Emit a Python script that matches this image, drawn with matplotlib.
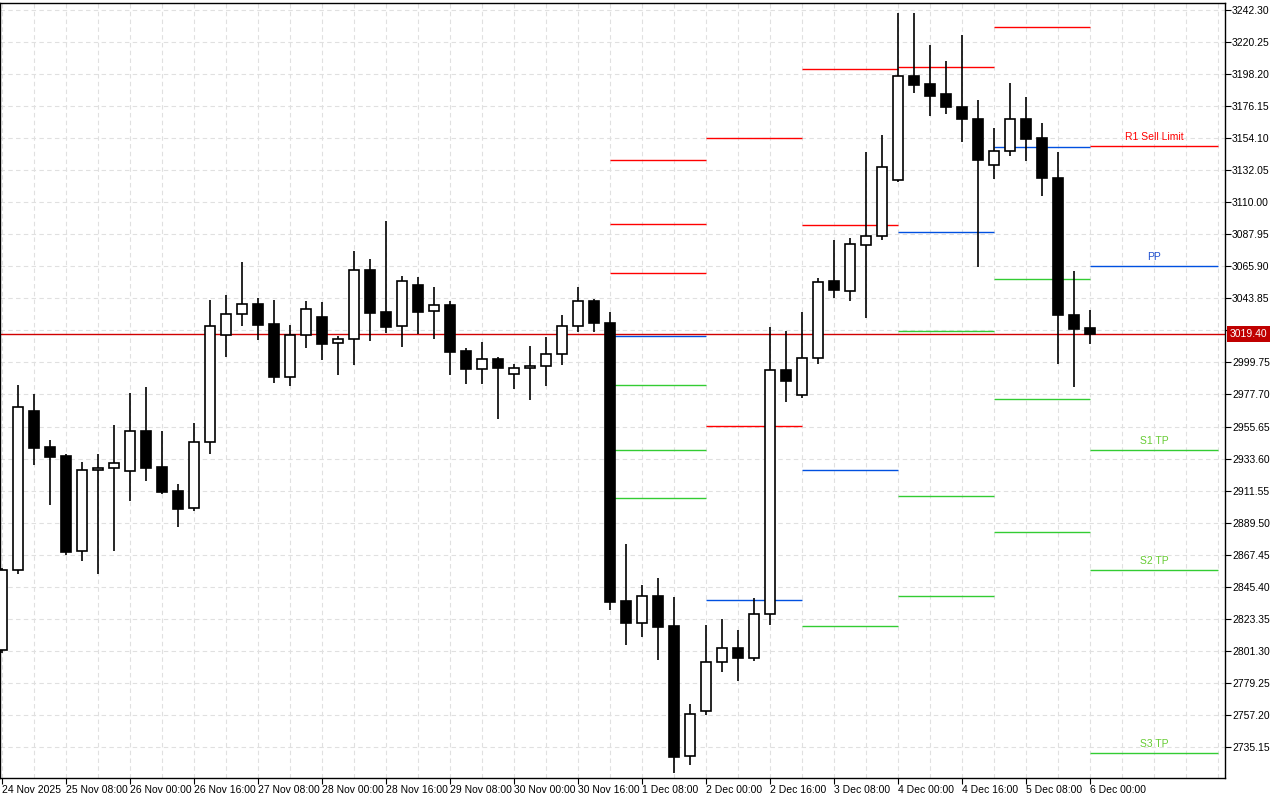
import matplotlib
matplotlib.use('Agg')
import numpy as np
import matplotlib.pyplot as plt

plt.rcParams['font.family'] = ['Liberation Sans', 'DejaVu Sans']

# OHLC, one bar per slot (oldest first)
opens = [2801.9, 2856.9, 2966.4, 2941.6, 2935.4, 2870.0, 2925.8, 2927.1, 2925.1, 2952.6,
         2927.8, 2911.3, 2899.6, 2945.0, 3018.7, 3033.1, 3040.0, 3026.2, 2989.8, 3018.7,
         3031.0, 3013.2, 3015.9, 3063.4, 3034.5, 3024.9, 3053.1, 3035.2, 3039.3, 3007.7,
         2995.3, 3002.1, 2991.8, 2996.0, 2997.3, 3005.6, 3024.9, 3042.1, 3026.9, 2835.6,
         2820.5, 2839.1, 2818.4, 2729.0, 2759.9, 2793.6, 2803.3, 2796.4, 2826.7, 2994.6,
         2977.4, 3002.8, 3055.8, 3048.9, 3080.6, 3086.8, 3125.3, 3196.9, 3191.4, 3184.5,
         3175.6, 3167.3, 3135.6, 3145.3, 3167.3, 3154.2, 3126.7, 3032.4, 3023.5]
highs = [2858.0, 2984.3, 2978.1, 2946.4, 2936.8, 2931.3, 2936.8, 2956.7, 2978.7, 2982.9,
         2952.6, 2916.1, 2958.1, 3042.7, 3046.2, 3068.9, 3044.1, 3042.7, 3025.5, 3042.1,
         3041.4, 3018.0, 3076.5, 3071.0, 3097.1, 3059.3, 3058.6, 3051.7, 3042.1, 3009.7,
         3013.8, 3003.5, 2998.7, 3011.1, 3017.3, 3032.4, 3051.7, 3043.4, 3034.5, 2874.8,
         2846.6, 2851.4, 2838.4, 2764.7, 2819.1, 2823.2, 2815.7, 2837.7, 3024.2, 3021.4,
         3034.5, 3057.9, 3084.0, 3085.4, 3144.6, 3156.3, 3240.2, 3240.2, 3218.2, 3207.2,
         3225.1, 3180.4, 3161.1, 3192.1, 3182.4, 3164.5, 3144.6, 3062.7, 3035.9]
lows = [2800.0, 2854.2, 2929.2, 2901.7, 2867.3, 2863.1, 2854.2, 2870.0, 2904.4, 2918.2,
        2909.2, 2886.5, 2897.6, 2936.8, 3003.5, 3024.9, 3015.2, 2985.6, 2983.6, 3009.7,
        3001.5, 2991.1, 2998.0, 3014.5, 3020.0, 3010.4, 3019.3, 3015.9, 2991.1, 2984.9,
        2984.9, 2960.9, 2981.5, 2973.9, 2983.6, 2998.0, 3020.7, 3020.7, 2829.4, 2805.3,
        2810.8, 2795.0, 2717.3, 2722.8, 2757.2, 2786.8, 2780.6, 2794.3, 2819.1, 2972.6,
        2975.3, 2998.7, 3044.1, 3042.1, 3030.4, 3084.0, 3123.9, 3185.2, 3169.4, 3170.7,
        3151.5, 3065.5, 3126.0, 3141.8, 3138.4, 3114.3, 2998.7, 2982.9, 3012.5]
closes = [2856.9, 2969.1, 2940.9, 2934.7, 2869.3, 2925.8, 2927.1, 2930.6, 2952.6, 2927.1,
          2910.6, 2898.9, 2945.0, 3024.9, 3033.1, 3040.0, 3025.5, 2989.8, 3018.7, 3036.6,
          3012.5, 3015.9, 3063.4, 3033.8, 3024.2, 3055.8, 3034.5, 3039.3, 3007.0, 2995.3,
          3002.1, 2996.0, 2996.0, 2997.3, 3005.6, 3024.9, 3042.1, 3026.9, 2834.9, 2820.5,
          2839.1, 2817.7, 2728.3, 2757.9, 2793.6, 2803.3, 2796.4, 2826.7, 2994.6, 2987.0,
          3002.8, 3055.1, 3049.6, 3081.3, 3086.8, 3134.3, 3196.9, 3190.7, 3183.1, 3175.6,
          3167.3, 3139.1, 3145.3, 3167.3, 3153.5, 3126.7, 3032.4, 3022.8, 3019.4]

x_labels = ['24 Nov 2025', '25 Nov 08:00', '26 Nov 00:00', '26 Nov 16:00', '27 Nov 08:00',
            '28 Nov 00:00', '28 Nov 16:00', '29 Nov 08:00', '30 Nov 00:00', '30 Nov 16:00',
            '1 Dec 08:00', '2 Dec 00:00', '2 Dec 16:00', '3 Dec 08:00', '4 Dec 00:00',
            '4 Dec 16:00', '5 Dec 08:00', '6 Dec 00:00']

# daily pivot levels: (start bar, end bar, [(price, kind)])
pivot_days = [
    (38, 44, [(3139.1, 'r'), (3095.0, 'r'), (3061.3, 'r'), (3017.9, 'p'),
              (2984.2, 's'), (2939.5, 's'), (2906.5, 's')]),
    (44, 50, [(3154.2, 'r'), (2956.0, 'r'), (2836.3, 'p')]),
    (50, 56, [(3201.7, 'r'), (3094.4, 'r'), (2925.8, 'p'), (2818.4, 's')]),
    (56, 62, [(3203.1, 'r'), (3089.5, 'p'), (3021.4, 's'), (2907.9, 's'), (2839.1, 's')]),
    (62, 68, [(3230.6, 'r'), (3148.0, 'p'), (3057.2, 's'), (2974.6, 's'), (2883.1, 's')]),
    (68, 76, [(3148.7, 'r'), (3066.1, 'p'), (2939.5, 's'), (2856.9, 's'), (2731.0, 's')]),
]
last_labels = ['R1 Sell Limit', 'PP', 'S1 TP', 'S2 TP', 'S3 TP']

price_ticks = [3242.30 - 22.05 * k for k in range(24)]
last_price = 3019.40

colors = {'r': '#ff0000', 'p': '#0050e0', 's': '#33cc33'}
label_colors = {'r': '#ff0000', 'p': '#1e4fd0', 's': '#66cc33'}

fig = plt.figure(figsize=(12.8, 8.0), dpi=100)
ax = fig.add_axes([0.0, 22 / 800, 1225 / 1280, 775 / 800])

ax.set_xlim(-0.125, 76.44)
ax.set_ylim(2713.8, 3247.1)

for xg in range(0, 78, 2):
    ax.axvline(xg, color='#e0e0e0', lw=0.8, ls=(0, (4, 3)), zorder=0)
for p in price_ticks:
    ax.axhline(p, color='#e0e0e0', lw=0.8, ls=(0, (4, 3)), zorder=0)

bw = 0.62
for i in range(len(opens)):
    o, h, l, c = opens[i], highs[i], lows[i], closes[i]
    ax.vlines(i, l, h, color='black', lw=1.2, zorder=3)
    lo, hi = min(o, c), max(o, c)
    face = 'white' if c >= o else 'black'
    ax.add_patch(plt.Rectangle((i - bw / 2, lo), bw, max(hi - lo, 0.6),
                               facecolor=face, edgecolor='black', lw=1.2, zorder=4))

for start, end, levels in pivot_days:
    for price, kind in levels:
        ax.hlines(price, start, end, color=colors[kind], lw=1.0, zorder=2)

start, end, levels = pivot_days[-1]
for (price, kind), name in zip(levels, last_labels):
    ax.text(start + 4, price + 2.5, name, color=label_colors[kind], fontsize=7.5,
            ha='center', va='bottom', zorder=5)

ax.axhline(last_price, color='#d00000', lw=1.0, zorder=2)

ax.yaxis.tick_right()
ax.set_yticks(price_ticks)
# the tick label next to the last price is hidden behind the price box
ax.set_yticklabels(['' if abs(p - last_price) < 5 else '%.2f' % p for p in price_ticks],
                   fontsize=7.5)
ax.tick_params(axis='y', length=4, pad=1)
ax.text(1.004, last_price, '%.2f' % last_price, transform=ax.get_yaxis_transform(),
        color='white', fontsize=7.5, va='center', ha='left',
        bbox=dict(boxstyle='square,pad=0.25', facecolor='#c00000', edgecolor='none'), zorder=6)

ax.set_xticks(range(0, 4 * len(x_labels), 4))
ax.set_xticklabels(x_labels, fontsize=7.5, ha='left')
ax.tick_params(axis='x', length=4, pad=1)

for s in ax.spines.values():
    s.set_linewidth(1.0)

plt.savefig('out.png', dpi=100)
